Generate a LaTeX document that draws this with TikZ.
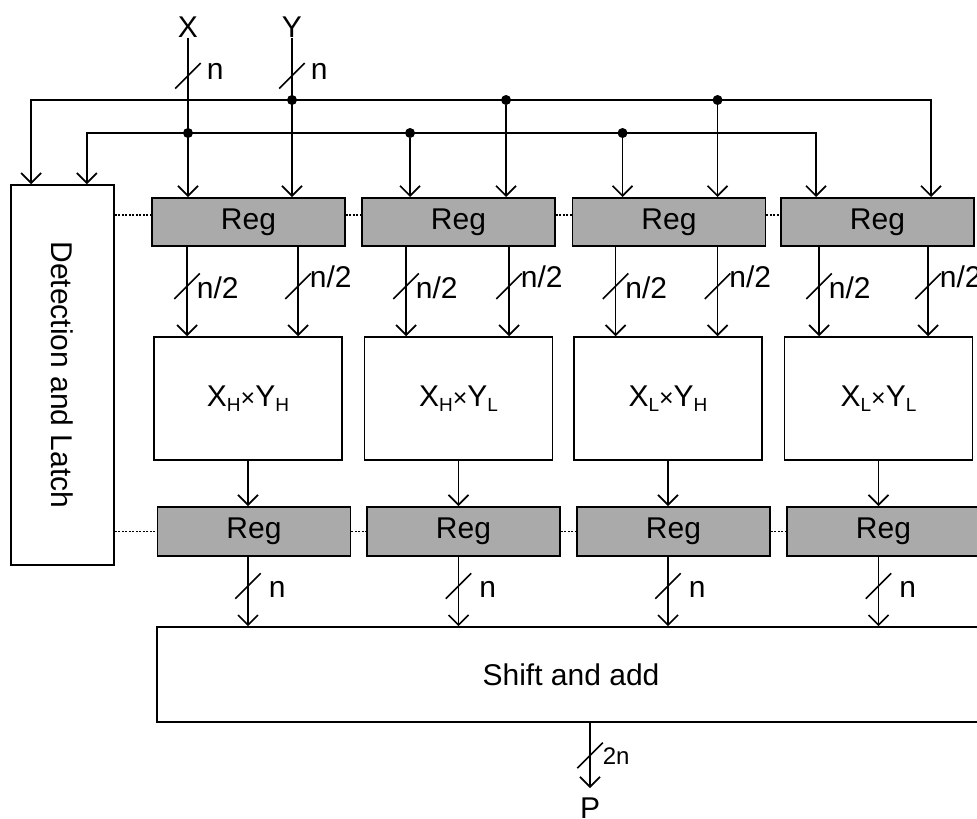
\documentclass[tikz,border=0pt]{standalone}
\usepackage{fontspec}
\setmainfont{Liberation Sans}
\usetikzlibrary{arrows.meta,positioning,calc}
\definecolor{reggray}{RGB}{170,170,170}
\newcommand{\lowsub}[1]{\raisebox{-5.5pt}{\fontsize{19}{19}\selectfont #1}}
\newcommand{\mulx}{{\fontsize{25}{25}\selectfont ×}}

\begin{document}
\begin{tikzpicture}[x=1pt, y=-1pt,
    every node/.style={font=\fontsize{30}{36}\selectfont, inner sep=0pt},
    regbox/.style={draw, line width=1.9pt, fill=reggray, minimum width=193pt, minimum height=48pt},
    mulbox/.style={draw, line width=1.6pt, fill=white, minimum width=188pt, minimum height=123pt},
    wire/.style={line width=1.7pt},
    arr/.style={wire, -{Straight Barb[length=10pt,width=20pt]}},
    slash/.style={draw, line width=1.6pt, rotate=45, minimum width=36pt, minimum height=0pt},
    link/.style={line width=1.7pt, dash pattern=on 2pt off 1.5pt},
    dot/.style={circle, fill, minimum size=10pt}]
  \useasboundingbox (0,0) rectangle (977,819);

  \node (X) at (188,27) {X};
  \node (Y) at (292,27) {Y};
  \node[draw, line width=1.6pt, minimum width=103pt, minimum height=380pt] (det) at (62.5,375) {};
  \node[rotate=-90] (dettxt) at (det.center) {Detection and Latch};

  \foreach \i/\cx in {1/248.5, 2/458.5, 3/669, 4/877.5}
    \node[regbox] (r\i) at (\cx,222) {Reg};
  \foreach \i/\cx/\a/\b in {1/248/H/H, 2/458.5/H/L, 3/668/L/H, 4/878.5/L/L}
    \node[mulbox] (m\i) at (\cx,398.5) {X\lowsub{\a}\mulx Y\lowsub{\b}};
  \foreach \i/\cx in {1/254, 2/463.5, 3/673.5, 4/883.5}
    \node[regbox, minimum height=49pt] (b\i) at (\cx,531.5) {Reg};
  \node[draw, line width=1.6pt, fill=white, minimum width=828pt, minimum height=95pt] (sh) at (571,674.5) {Shift and add};
  \node[anchor=north] (P) at (590,798) {P};

  \coordinate (busy) at (0,100);
  \coordinate (busx) at (0,133);
  \node[dot] (jx1) at (X |- busx) {};
  \node[dot] (jy1) at (Y |- busy) {};

  \draw[arr] (X) -- (X |- r1.north) node[pos=0.24, slash] (sx) {}
    node[pos=0.24, anchor=west, xshift=18pt, yshift=4.5pt] (nx) {n};
  \draw[arr] (Y) -- (Y |- r1.north) node[pos=0.24, slash] (sy) {}
    node[pos=0.24, anchor=west, xshift=18pt, yshift=4.5pt] (ny) {n};

  \foreach \i/\da/\db in {2/49/145, 3/51/146} {
    \coordinate (ia\i) at ([xshift=\da pt]r\i.north west);
    \coordinate (ib\i) at ([xshift=\db pt]r\i.north west);
    \node[dot] (jx\i) at (ia\i |- busx) {};
    \node[dot] (jy\i) at (ib\i |- busy) {};
    \draw[arr] (jx\i) -- (ia\i);
    \draw[arr] (jy\i) -- (ib\i);
  }
  \coordinate (ia4) at ([xshift=36pt]r4.north west);
  \coordinate (ib4) at ([xshift=151pt]r4.north west);
  \draw[arr] (jx1.center) -| (ia4);
  \draw[arr] (jy1.center) -| (ib4);
  \draw[arr] (jx1.center) -| ([xshift=-28pt]det.north east);
  \draw[arr] (jy1.center) -| ([xshift=21pt]det.north west);

  \foreach \i/\da/\db in {1/36/147, 2/45/148, 3/44/146, 4/39/148} {
    \coordinate (pa\i) at ([xshift=\da pt]r\i.south west);
    \coordinate (pb\i) at ([xshift=\db pt]r\i.south west);
    \draw[arr] (pa\i) -- (pa\i |- m\i.north) node[pos=0.44, slash] (sa\i) {}
      node[pos=0.44, anchor=west, xshift=9pt, yshift=-2pt] (la\i) {n/2};
    \draw[arr] (pb\i) -- (pb\i |- m\i.north) node[pos=0.44, slash] (sb\i) {}
      node[pos=0.44, anchor=west, xshift=11pt, yshift=9pt] (lb\i) {n/2};
    \draw[arr] (m\i) -- (m\i |- b\i.north);
    \draw[arr] (b\i.south -| m\i) -- (m\i |- sh.north) node[pos=0.42, slash] (sc\i) {}
      node[pos=0.42, anchor=west, xshift=20pt, yshift=-3pt] (lc\i) {n};
  }

  \draw[arr] ([xshift=19pt]sh.south) -- ([yshift=10pt]P.north) node[midway, slash] (so) {}
    node[midway, anchor=west, xshift=12pt, yshift=-1pt, font=\fontsize{24}{28}\selectfont] (lo) {2n};

  \draw[link] ([yshift=7pt]r1.west -| det.east) -- ([yshift=7pt]r1.west);
  \draw[link] ([yshift=7pt]r1.east) -- ([yshift=7pt]r2.west);
  \draw[link] ([yshift=7pt]r2.east) -- ([yshift=7pt]r3.west);
  \draw[link] ([yshift=7pt]r3.east) -- ([yshift=7pt]r4.west);
  \draw[link] (b1.west -| det.east) -- (b1.west);
  \draw[link] (b1.east) -- (b2.west);
  \draw[link] (b2.east) -- (b3.west);
  \draw[link] (b3.east) -- (b4.west);
\end{tikzpicture}
\end{document}
